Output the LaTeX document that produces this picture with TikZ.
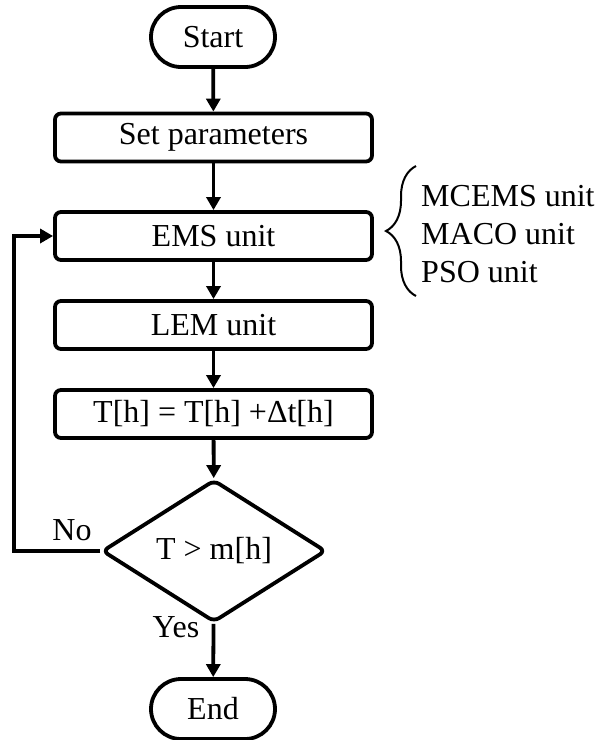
\documentclass[tikz,border=0pt]{standalone}
\usepackage{fontspec}
\setmainfont{Liberation Serif}
\usetikzlibrary{positioning, shapes.geometric, arrows.meta, decorations.pathreplacing}

\begin{document}
\begin{tikzpicture}[x=1pt,y=-1pt,
        line width=3.8pt,
        font=\fontsize{32}{38}\selectfont,
        term/.style={% For start and end
            rectangle,
            rounded corners=30pt,
            draw,
            minimum width=124pt,
            minimum height=60pt,
            inner sep=0pt,
            },
        proc/.style={% For the unit boxes
            rectangle,
            rounded corners=6pt,
            draw,
            minimum width=317pt,
            minimum height=48pt,
            inner sep=0pt,
            },
        decide/.style={% For the test
            diamond,
            draw,
            rounded corners=6pt,
            minimum width=224pt,
            minimum height=116pt,
            inner sep=0pt,
            },
        flow/.style={% Arrows between the steps
            -{Triangle[length=13pt,width=14pt]},
            },
            ]
         \useasboundingbox (0,0) rectangle (597,740);
         \node[term] (start) at (213,37) {Start};
         \node[proc] (set) at (213.5,137.5) {Set parameters};
         \node[proc] (ems) at (213.5,236) {EMS unit};
         \node[proc] (lem) at (213.5,325) {LEM unit};
         \node[proc] (upd) at (213.5,414) {T[h] = T[h] +Δt[h]};
         \node[decide] (test) at (214,551) {T > m[h]};
         \node[term] (stop) at (213,709) {End};
            % the three kinds of EMS unit
         \node[anchor=west, align=left] (kinds) at (416,234) {MCEMS unit\\MACO unit\\PSO unit};
         \draw[line width=2pt, decorate, decoration={brace, amplitude=30pt}] (416,296) -- (416,166);
         \coordinate (back) at (14,551);
         \node () at (72,530) {No};
         \node () at (176,627) {Yes};
	  \draw[flow] (start) -- (set);
	  \draw[flow] (set) -- (ems);
	  \draw[flow] (ems) -- (lem);
	  \draw[flow] (lem) -- (upd);
	  \draw[flow] (upd) -- (test);
	  \draw[flow] (test) -- (stop);
	  \draw[flow] (test.west) -- (back) |- (ems.west);
        \end{tikzpicture}
\end{document}
